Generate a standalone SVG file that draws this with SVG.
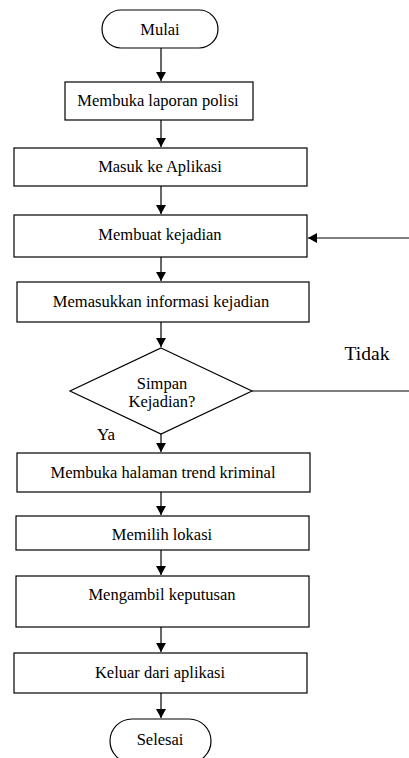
<svg xmlns="http://www.w3.org/2000/svg" width="409" height="758" viewBox="0 0 409 758">
<style>
.s{fill:#fff;stroke:#000;stroke-width:1.2}
.t{font-size:16.5px;fill:#000;text-anchor:middle}
.c{stroke:#000;stroke-width:1.2;fill:none}
</style>
<defs>
<marker id="ah" markerWidth="10" markerHeight="10" refX="9" refY="5" orient="auto" markerUnits="userSpaceOnUse">
<path d="M0,0 L9,5 L0,10 Z" fill="#000"/>
</marker>
</defs>
<rect width="409" height="758" fill="#fff"/>
<g font-family="Times New Roman, Liberation Serif, DejaVu Serif, serif">
<g id="connectors">
<line class="c" x1="161" y1="48" x2="161" y2="81" marker-end="url(#ah)"/>
<line class="c" x1="161" y1="120" x2="161" y2="147" marker-end="url(#ah)"/>
<line class="c" x1="161" y1="186" x2="161" y2="214" marker-end="url(#ah)"/>
<line class="c" x1="161" y1="257" x2="161" y2="281" marker-end="url(#ah)"/>
<line class="c" x1="161" y1="322" x2="161" y2="347" marker-end="url(#ah)"/>
<line class="c" x1="161" y1="434" x2="161" y2="452" marker-end="url(#ah)"/>
<line class="c" x1="161" y1="492" x2="161" y2="515" marker-end="url(#ah)"/>
<line class="c" x1="161" y1="550" x2="161" y2="575" marker-end="url(#ah)"/>
<line class="c" x1="161" y1="627" x2="161" y2="652" marker-end="url(#ah)"/>
<line class="c" x1="161" y1="693" x2="161" y2="718" marker-end="url(#ah)"/>
<line class="c" x1="252" y1="391" x2="409" y2="391"/>
<line class="c" x1="409" y1="238" x2="308" y2="238" marker-end="url(#ah)"/>
<text class="t" x="367" y="360" style="font-size:19.5px">Tidak</text>
<text class="t" x="106" y="440" style="font-size:17px">Ya</text>
</g>
<g id="mulai">
<rect class="s" x="102" y="10" width="116" height="38" rx="19"/>
<text class="t" x="160" y="35">Mulai</text>
</g>
<g id="n1">
<rect class="s" x="65" y="82" width="188" height="38"/>
<text class="t" x="158" y="106">Membuka laporan polisi</text>
</g>
<g id="n2">
<rect class="s" x="14" y="148" width="293" height="38"/>
<text class="t" x="160" y="172">Masuk ke Aplikasi</text>
</g>
<g id="n3">
<rect class="s" x="14" y="215" width="293" height="42"/>
<text class="t" x="160" y="240">Membuat kejadian</text>
</g>
<g id="n4">
<rect class="s" x="17" y="282" width="292" height="40"/>
<text class="t" x="161" y="307">Memasukkan informasi kejadian</text>
</g>
<g id="decision">
<polygon class="s" points="161,348 252,391 161,434 70,391"/>
<text class="t" x="162" y="389">Simpan</text>
<text class="t" x="162" y="407">Kejadian?</text>
</g>
<g id="n5">
<rect class="s" x="17" y="453" width="293" height="39"/>
<text class="t" x="163" y="478">Membuka halaman trend kriminal</text>
</g>
<g id="n6">
<rect class="s" x="16" y="516" width="293" height="34"/>
<text class="t" x="162" y="540">Memilih lokasi</text>
</g>
<g id="n7">
<rect class="s" x="16" y="576" width="293" height="51"/>
<text class="t" x="162" y="600">Mengambil keputusan</text>
</g>
<g id="n8">
<rect class="s" x="14" y="653" width="293" height="40"/>
<text class="t" x="160" y="678">Keluar dari aplikasi</text>
</g>
<g id="selesai">
<rect class="s" x="110" y="719" width="101" height="44" rx="22"/>
<text class="t" x="160" y="745">Selesai</text>
</g>
</g>
</svg>
